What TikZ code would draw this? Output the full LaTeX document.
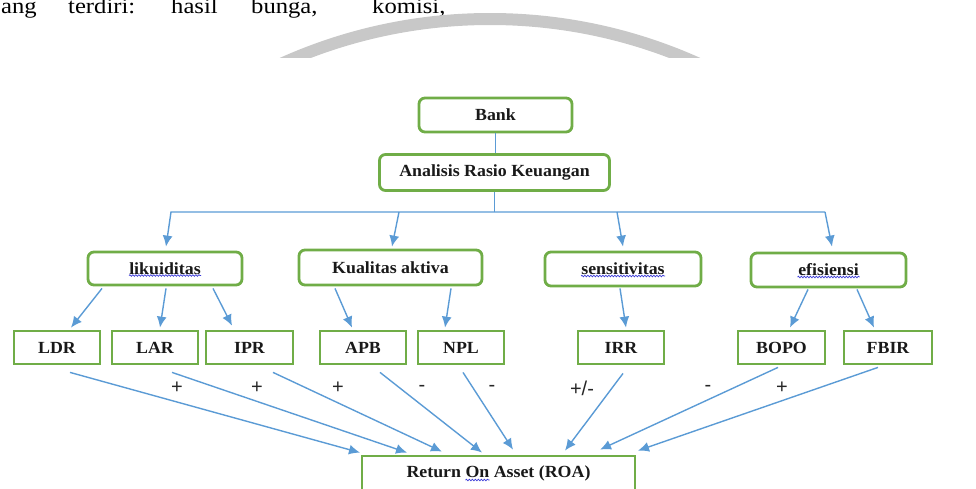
\documentclass[tikz,border=0pt]{standalone}
\usepackage{fontspec}
\usetikzlibrary{arrows.meta,calc,decorations.pathmorphing}
\newfontfamily\boxfont[FakeStretch=1.05]{Liberation Serif}
\newfontfamily\signfont{Liberation Sans}
\newfontfamily\bodyfont[FakeStretch=1.12]{Liberation Serif}
\definecolor{boxgreen}{HTML}{70AD47}
\definecolor{arrowblue}{HTML}{5B9BD5}
\definecolor{arcgray}{HTML}{C8C8C8}
\definecolor{spellblue}{HTML}{3B3BD8}
\begin{document}
\begin{tikzpicture}[x=1pt,y=-1pt,
  box/.style={draw=boxgreen,line width=2.8pt,fill=white,inner sep=0pt,
    font=\boxfont\bfseries\fontsize{17}{20}\selectfont,text=black!90},
  rbox/.style={box,rounded corners=6pt},
  con/.style={draw=arrowblue,line width=1.4pt},
  arr/.style={con,-{Latex[length=11pt,width=10pt]}},
  sign/.style={font=\signfont\fontsize{20}{24}\selectfont,text=black!85,inner sep=0pt},
  wavy/.style={draw=spellblue,line width=0.7pt,decorate,
    decoration={snake,amplitude=0.8pt,segment length=3pt}},
  topword/.style={anchor=base west,inner sep=0pt,
    font=\bodyfont\fontsize{22}{26}\selectfont,text=black}
]
\useasboundingbox (0,0) rectangle (976,488);

% top text line (cut)
\node[topword] (w1) at (1,13) {ang};
\node[topword] (w2) at (68,13) {terdiri:};
\node[topword] (w3) at (171,13) {hasil};
\node[topword] (w4) at (251,13) {bunga,};
\node[topword] (w5) at (372,13) {komisi,};

% grey arc
\begin{scope}
\clip (0,0) rectangle (976,57);
\draw[arcgray,line width=12pt] (490,526) circle[radius=507pt];
\end{scope}

% nodes
\node[rbox,minimum width=153pt,minimum height=34pt] (bank) at (495.5,115) {Bank};
\node[rbox,minimum width=230pt,minimum height=36pt] (ark) at (494.5,172.5) {Analisis Rasio Keuangan};

\node[rbox,minimum width=154pt,minimum height=33pt] (lik) at (165,268.5) {likuiditas};
\node[rbox,minimum width=183pt,minimum height=35pt] (kua) at (390.5,267.5) {Kualitas aktiva};
\node[rbox,minimum width=156pt,minimum height=34pt] (sen) at (623,269) {sensitivitas};
\node[rbox,minimum width=155pt,minimum height=34pt] (efi) at (828.5,270) {efisiensi};

\node[box,minimum width=86pt,minimum height=33pt] (LDR) at (57,347.5) {LDR};
\node[box,minimum width=86pt,minimum height=33pt] (LAR) at (155,347.5) {LAR};
\node[box,minimum width=87pt,minimum height=33pt] (IPR) at (249.5,347.5) {IPR};
\node[box,minimum width=86pt,minimum height=33pt] (APB) at (363,347.5) {APB};
\node[box,minimum width=86pt,minimum height=33pt] (NPL) at (461,347.5) {NPL};
\node[box,minimum width=86pt,minimum height=33pt] (IRR) at (621,347.5) {IRR};
\node[box,minimum width=87pt,minimum height=33pt] (BOPO) at (781.5,347.5) {BOPO};
\node[box,minimum width=88pt,minimum height=33pt] (FBIR) at (888,347.5) {FBIR};

\node[box,minimum width=273pt,minimum height=34pt] (roa) at (498.5,473) {Return On Asset (ROA)};

% spell-check underlines
\draw[wavy] ($(lik.center)+(-36,7)$) -- ++(72,0);
\draw[wavy] ($(sen.center)+(-42,7)$) -- ++(84,0);
\draw[wavy] ($(efi.center)+(-31,7)$) -- ++(62,0);
\draw[wavy] ($(roa.center)+(-33,7)$) -- ++(24,0);

% top connectors
\draw[con] (bank.south) -- (bank.south |- ark.north);
\coordinate (b1) at (171,212);
\coordinate (b2) at (399,212);
\coordinate (b3) at (617,212);
\coordinate (b4) at (825,212);
\draw[con] (ark.south) -- (ark.south |- b1);
\draw[arr] (b4) -- (b1) -- ($(lik.north)+(1,-4)$);
\draw[arr] (b2) -- ($(kua.north)+(1.5,-2)$);
\draw[arr] (b3) -- ($(sen.north)+(0,-4)$);
\draw[arr] (b4) -- ($(efi.north)+(3.5,-5)$);

% level 2 -> level 3
\draw[arr] ($(lik.south)+(-63,2)$) -- ($(LDR.north)+(14,-2)$);
\draw[arr] ($(lik.south)+(1,2)$) -- ($(LAR.north)+(5,-2)$);
\draw[arr] ($(lik.south)+(48,2)$) -- ($(IPR.north)+(-17.5,-4)$);
\draw[arr] ($(kua.south)+(-55.5,2)$) -- ($(APB.north)+(-11,-2)$);
\draw[arr] ($(kua.south)+(60.5,2)$) -- ($(NPL.north)+(-16,-2)$);
\draw[arr] ($(sen.south)+(-3,1)$) -- ($(IRR.north)+(5,-2)$);
\draw[arr] ($(efi.south)+(-20.5,1)$) -- ($(BOPO.north)+(8.5,-2)$);
\draw[arr] ($(efi.south)+(28.5,1)$) -- ($(FBIR.north)+(-14,-2)$);

% level 3 -> ROA
\draw[arr] ($(LDR.south)+(13,7)$) -- ($(roa.north)+(-138.5,-2)$);
\draw[arr] ($(LAR.south)+(17,7)$) -- ($(roa.north)+(-91.5,-2)$);
\draw[arr] ($(IPR.south)+(23.5,7)$) -- ($(roa.north)+(-56.5,-3)$);
\draw[arr] ($(APB.south)+(17,7)$) -- ($(roa.north)+(-16.5,-2)$);
\draw[arr] ($(NPL.south)+(2,7)$) -- ($(roa.north)+(14.5,-5)$);
\draw[arr] ($(IRR.south)+(2,8)$) -- ($(roa.north)+(66.5,-4)$);
\draw[arr] ($(BOPO.south)+(-3.5,2)$) -- ($(roa.north)+(101.5,-5)$);
\draw[arr] ($(FBIR.south)+(-10,2)$) -- ($(roa.north)+(139.5,-4)$);

% signs
\node[sign] (s1) at (177,388) {+};
\node[sign] (s2) at (257,388) {+};
\node[sign] (s3) at (338,388) {+};
\node[sign] (s4) at (422,388) {-};
\node[sign] (s5) at (492,388) {-};
\node[sign] (s6) at (582,388) {+/-};
\node[sign] (s7) at (708,388) {-};
\node[sign] (s8) at (782,388) {+};
\end{tikzpicture}
\end{document}
